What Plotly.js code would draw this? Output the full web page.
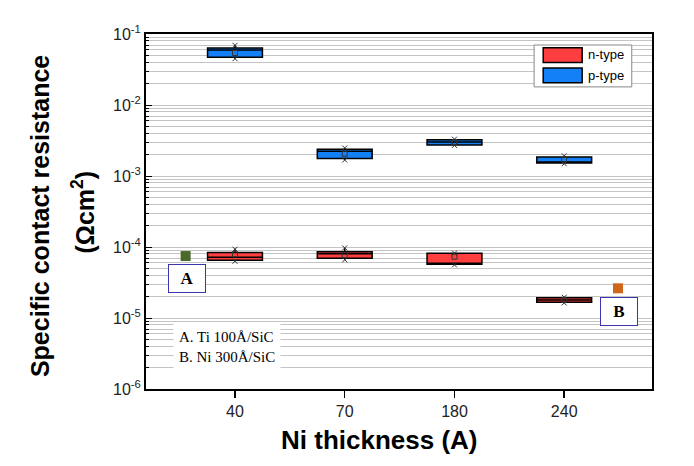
<!DOCTYPE html>
<html>
<head>
<meta charset="utf-8">
<script src="https://cdn.plot.ly/plotly-3.0.1.min.js"></script>
<style>
    html, body { margin: 0; padding: 0; background: #fff; }
    #chart-container { width: 694px; height: 466px; }
</style>
</head>
<body>
<div id="chart-container"></div>
<script>
const thickness = ["40", "70", "180", "240"]
const xPos = [0, 1, 2, 3]

// n-type (Ωcm²)
const nMin = [6.3e-5, 6.6e-5, 5.6e-5, 1.63e-5]
const nQ1 = [6.5e-5, 6.95e-5, 5.7e-5, 1.66e-5]
const nMedian = [7.2e-5, 8.05e-5, 5.75e-5, 1.8e-5]
const nQ3 = [8.4e-5, 8.6e-5, 8.15e-5, 1.93e-5]
const nMax = [9.3e-5, 9.7e-5, 8.2e-5, 1.96e-5]
const nMean = [7.9e-5, 7.7e-5, 7.3e-5, 1.8e-5]

// p-type (Ωcm²)
const pMin = [0.0449, 0.00168, 0.0027, 0.00149]
const pQ1 = [0.047, 0.00177, 0.00273, 0.00152]
const pMedian = [0.0596, 0.00223, 0.00301, 0.00157]
const pQ3 = [0.0636, 0.00238, 0.00324, 0.00185]
const pMax = [0.0693, 0.00248, 0.0033, 0.00192]
const pMean = [0.054, 0.00206, 0.003, 0.0017]

// reference samples
const refLabels = ["A", "B"]
const refX = [-0.45, 3.49]
const refY = [7.46e-5, 2.62e-5]
const refColors = ["#4a6a2a", "#d0661a"]
const refBoxY = [3.6e-5, 1.22e-5]
const refNotes = ["A. Ti 100Å/SiC", "B. Ni 300Å/SiC"]

const yDecades = [-6, -5, -4, -3, -2, -1]

const fontSans = "Arial, 'Liberation Sans', sans-serif"
const fontSerif = "'Times New Roman', 'Liberation Serif', serif"

function boxTrace(name, fill, q1, median, q3, lo, hi) {
    return {
        type: 'box',
        name: name,
        x: xPos,
        q1: q1,
        median: median,
        q3: q3,
        lowerfence: lo,
        upperfence: hi,
        width: 0.5,
        whiskerwidth: 0,
        fillcolor: fill,
        line: { color: '#000', width: 1.5 },
        boxpoints: false,
        hoverinfo: 'skip',
        showlegend: false,
    }
}

function markerTrace(x, y, symbol, size) {
    return {
        type: 'scatter',
        mode: 'markers',
        x: x,
        y: y,
        marker: { symbol: symbol, size: size, color: '#333', line: { color: '#333', width: 1 } },
        showlegend: false,
        hoverinfo: 'skip',
    }
}

function drawChart() {
    const xTwice = xPos.concat(xPos)
    const traces = [
        boxTrace('n-type', '#ff3f3f', nQ1, nMedian, nQ3, nMin, nMax),
        boxTrace('p-type', '#1480f5', pQ1, pMedian, pQ3, pMin, pMax),
        markerTrace(xPos, nMean, 'square-open', 5),
        markerTrace(xPos, pMean, 'square-open', 5),
        markerTrace(xTwice, nMin.concat(pMin), 'x-thin-open', 5),
        markerTrace(xTwice, nMax.concat(pMax), 'x-thin-open', 5),
    ]

    refLabels.forEach((label, i) => {
        traces.push({
            type: 'scatter',
            mode: 'markers',
            x: [refX[i]],
            y: [refY[i]],
            marker: { symbol: 'square', size: 10, color: refColors[i] },
            showlegend: false,
            hoverinfo: 'skip',
        })
    })

    // minor grid at 2..9 x 10^n
    const minorVals = []
    yDecades.slice(0, -1).forEach(e => {
        for (let k = 2; k <= 9; k++) minorVals.push(k * Math.pow(10, e))
    })

    const annotations = []
    refLabels.forEach((label, i) => {
        annotations.push({
            xref: 'x', yref: 'y',
            x: refX[i] + 0.01, y: Math.log10(refBoxY[i]),
            text: '<b>' + label + '</b>',
            showarrow: false,
            font: { family: fontSerif, size: 17, color: '#000' },
            bgcolor: '#fff',
            bordercolor: '#3b33b0',
            borderwidth: 1,
            width: 34, height: 25,
        })
    })

    annotations.push({
        xref: 'paper', yref: 'paper',
        x: 0.053, y: 0.186, xanchor: 'left', yanchor: 'top',
        text: refNotes.join('<br>'),
        align: 'left',
        showarrow: false,
        bgcolor: '#fff',
        borderpad: 5,
        font: { family: fontSerif, size: 15, color: '#000' },
    })

    // axis titles
    annotations.push({
        xref: 'paper', yref: 'paper',
        x: -0.2095, y: 0.487, xanchor: 'center', yanchor: 'middle',
        text: '<b>Specific contact resistance</b>',
        textangle: -90, showarrow: false,
        font: { family: fontSans, size: 25, color: '#000' },
    })
    annotations.push({
        xref: 'paper', yref: 'paper',
        x: -0.124, y: 0.498, xanchor: 'center', yanchor: 'middle',
        text: '<b>(Ωcm<sup>2</sup>)</b>',
        textangle: -90, showarrow: false,
        font: { family: fontSans, size: 25, color: '#000' },
    })
    annotations.push({
        xref: 'paper', yref: 'paper',
        x: 0.462, y: -0.144, xanchor: 'center', yanchor: 'middle',
        text: '<b>Ni thickness (A)</b>',
        showarrow: false,
        font: { family: fontSans, size: 26, color: '#000' },
    })

    // legend drawn by hand to keep the wide swatches
    const legendNames = ['n-type', 'p-type']
    const legendColors = ['#ff3f3f', '#1480f5']
    const shapes = [{
        type: 'rect', xref: 'paper', yref: 'paper',
        x0: 0.767, x1: 0.960, y0: 0.851, y1: 0.969,
        line: { color: '#888', width: 1 }, fillcolor: '#fff',
    }]
    legendNames.forEach((name, i) => {
        const yTop = 0.961 - i * 0.057
        shapes.push({
            type: 'rect', xref: 'paper', yref: 'paper',
            x0: 0.785, x1: 0.862, y0: yTop - 0.041, y1: yTop,
            line: { color: '#000', width: 1.5 }, fillcolor: legendColors[i],
        })
        annotations.push({
            xref: 'paper', yref: 'paper',
            x: 0.870, y: yTop - 0.02, xanchor: 'left', yanchor: 'middle',
            text: name, showarrow: false,
            font: { family: fontSans, size: 13, color: '#000' },
        })
    })

    const layout = {
        width: 694,
        height: 466,
        margin: { l: 146, r: 42, t: 34, b: 77 },
        paper_bgcolor: '#fff',
        plot_bgcolor: '#fff',
        boxmode: 'overlay',
        showlegend: false,
        xaxis: {
            type: 'linear',
            range: [-0.811, 3.80],
            tickmode: 'array',
            tickvals: xPos,
            ticktext: thickness,
            ticks: 'outside',
            ticklen: 7,
            tickwidth: 1.5,
            tickcolor: '#000',
            showgrid: false,
            zeroline: false,
            showline: true,
            linecolor: '#000',
            linewidth: 2,
            mirror: true,
            tickfont: { family: fontSans, size: 16, color: '#222' },
        },
        yaxis: {
            type: 'log',
            range: [-6, -1],
            tickmode: 'array',
            tickvals: yDecades.map(e => Math.pow(10, e)),
            ticktext: yDecades.map(e => '10<sup>' + e + '</sup>'),
            ticks: 'inside',
            ticklen: 6,
            tickcolor: '#000',
            showgrid: true,
            gridcolor: '#c4c4c4',
            gridwidth: 1,
            zeroline: false,
            showline: true,
            linecolor: '#000',
            linewidth: 2,
            mirror: true,
            tickfont: { family: fontSans, size: 16, color: '#222' },
            minor: {
                tickmode: 'array',
                tickvals: minorVals,
                ticks: 'inside',
                ticklen: 3,
                tickcolor: '#000',
                showgrid: true,
                gridcolor: '#c4c4c4',
                gridwidth: 1,
            },
        },
        annotations: annotations,
        shapes: shapes,
    }

    Plotly.newPlot('chart-container', traces, layout, { staticPlot: true, displayModeBar: false })
}

document.addEventListener("DOMContentLoaded", () => {
    drawChart()
})
</script>
</body>
</html>
